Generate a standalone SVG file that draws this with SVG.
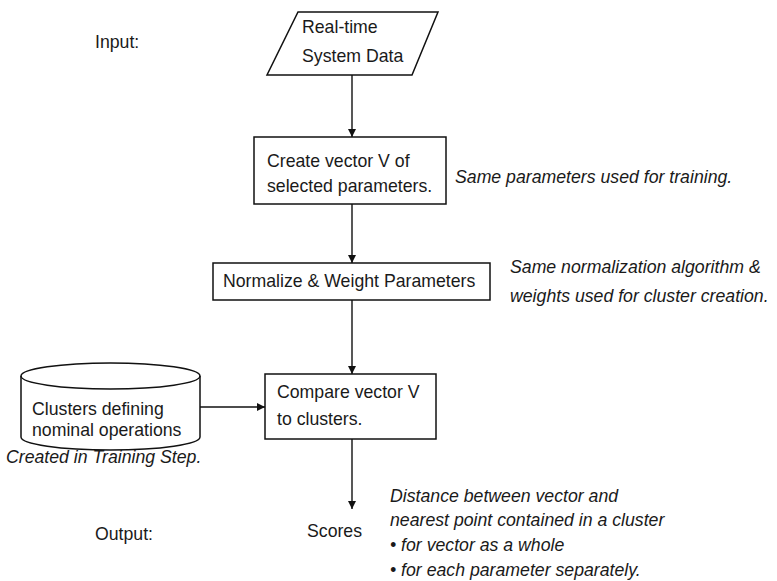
<svg xmlns="http://www.w3.org/2000/svg" width="777" height="581" viewBox="0 0 777 581">
<defs>
<marker id="ah" viewBox="0 0 10 10" refX="10" refY="5" markerWidth="8" markerHeight="8" markerUnits="userSpaceOnUse" orient="auto">
<path d="M0,0 L10,5 L0,10 z" fill="#111"/>
</marker>
<style>
.t{font-family:"Liberation Sans",Arial,sans-serif;font-size:17.7px;fill:#1a1a1a}
.i{font-family:"Liberation Sans",Arial,sans-serif;font-size:17.7px;font-style:italic;fill:#1a1a1a}
.s{fill:#fff;stroke:#111;stroke-width:1.5}
.c{fill:none;stroke:#111;stroke-width:1.4}
</style>
</defs>
<rect width="777" height="581" fill="#fff"/>
<g id="connectors">
<line class="c" x1="352" y1="75" x2="352" y2="137" marker-end="url(#ah)"/>
<line class="c" x1="352" y1="204" x2="352" y2="263" marker-end="url(#ah)"/>
<line class="c" x1="352" y1="300" x2="352" y2="374" marker-end="url(#ah)"/>
<line class="c" x1="200" y1="407" x2="265" y2="407" marker-end="url(#ah)"/>
<line class="c" x1="352" y1="439" x2="352" y2="509" marker-end="url(#ah)"/>
</g>
<g id="labels">
<text class="t" x="95" y="48">Input:</text>
<text class="t" x="95" y="540">Output:</text>
</g>
<g id="input">
<polygon class="s" points="298,12 438,12 412,75 267,75"/>
<text class="t" x="302" y="33">Real-time</text>
<text class="t" x="302" y="62">System Data</text>
</g>
<g id="create">
<rect class="s" x="254" y="137" width="192" height="67"/>
<text class="t" x="267" y="167">Create vector V of</text>
<text class="t" x="267" y="192">selected parameters.</text>
<text class="i" x="455" y="183">Same parameters used for training.</text>
</g>
<g id="normalize">
<rect class="s" x="213" y="263" width="277" height="37"/>
<text class="t" x="223" y="287">Normalize &amp; Weight Parameters</text>
<text class="i" x="510" y="273">Same normalization algorithm &amp;</text>
<text class="i" x="510" y="302">weights used for cluster creation.</text>
</g>
<g id="clusters">
<path class="s" d="M21,376 L21,437 A89.5,13 0 0 0 200,437 L200,376 A89.5,13 0 0 0 21,376 Z"/>
<path class="c" d="M21,376 A89.5,13 0 0 0 200,376"/>
<text class="t" x="32" y="415">Clusters defining</text>
<text class="t" x="32" y="436">nominal operations</text>
<text class="i" x="6" y="463">Created in Training Step.</text>
</g>
<g id="compare">
<rect class="s" x="265" y="374" width="171" height="65"/>
<text class="t" x="277" y="398">Compare vector V</text>
<text class="t" x="277" y="425">to clusters.</text>
</g>
<g id="scores">
<text class="t" x="307" y="537">Scores</text>
<text class="i" x="390" y="502">Distance between vector and</text>
<text class="i" x="390" y="526">nearest point contained in a cluster</text>
<text class="i" x="390" y="551">• for vector as a whole</text>
<text class="i" x="390" y="576">• for each parameter separately.</text>
</g>
</svg>
